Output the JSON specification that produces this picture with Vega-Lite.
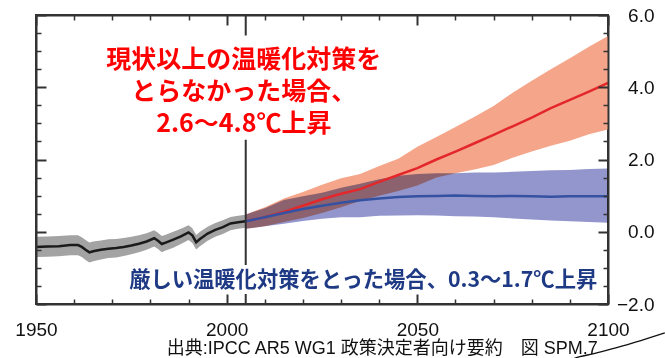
{
  "$schema": "https://vega.github.io/schema/vega-lite/v6.json",
  "width": 572,
  "height": 289,
  "autosize": {"type": "none"},
  "padding": {"left": 36, "top": 15, "right": 57, "bottom": 54},
  "background": "white",
  "config": {
    "view": {"stroke": "#333333", "strokeWidth": 2},
    "axis": {"grid": false, "title": null, "labelFont": "Liberation Sans", "labelFontSize": 19, "labelColor": "#111111", "tickColor": "#333333", "domainColor": "#333333", "domainWidth": 2}
  },
  "datasets": {
    "hist": [
      {"year": 1950, "mean": -0.42, "lo": -0.70, "hi": -0.14},
      {"year": 1953, "mean": -0.41, "lo": -0.69, "hi": -0.13},
      {"year": 1956, "mean": -0.40, "lo": -0.68, "hi": -0.12},
      {"year": 1959, "mean": -0.37, "lo": -0.65, "hi": -0.10},
      {"year": 1961, "mean": -0.37, "lo": -0.65, "hi": -0.10},
      {"year": 1962, "mean": -0.42, "lo": -0.70, "hi": -0.15},
      {"year": 1963, "mean": -0.50, "lo": -0.78, "hi": -0.23},
      {"year": 1964, "mean": -0.57, "lo": -0.85, "hi": -0.30},
      {"year": 1965, "mean": -0.54, "lo": -0.82, "hi": -0.27},
      {"year": 1967, "mean": -0.50, "lo": -0.77, "hi": -0.24},
      {"year": 1969, "mean": -0.47, "lo": -0.73, "hi": -0.21},
      {"year": 1971, "mean": -0.45, "lo": -0.71, "hi": -0.20},
      {"year": 1973, "mean": -0.42, "lo": -0.67, "hi": -0.17},
      {"year": 1975, "mean": -0.38, "lo": -0.62, "hi": -0.14},
      {"year": 1977, "mean": -0.33, "lo": -0.57, "hi": -0.10},
      {"year": 1979, "mean": -0.27, "lo": -0.50, "hi": -0.04},
      {"year": 1981, "mean": -0.18, "lo": -0.41, "hi": 0.04},
      {"year": 1982, "mean": -0.25, "lo": -0.48, "hi": -0.03},
      {"year": 1983, "mean": -0.34, "lo": -0.57, "hi": -0.12},
      {"year": 1984, "mean": -0.30, "lo": -0.52, "hi": -0.08},
      {"year": 1986, "mean": -0.22, "lo": -0.44, "hi": 0.00},
      {"year": 1988, "mean": -0.13, "lo": -0.34, "hi": 0.08},
      {"year": 1990, "mean": -0.02, "lo": -0.23, "hi": 0.18},
      {"year": 1991, "mean": -0.10, "lo": -0.31, "hi": 0.10},
      {"year": 1992, "mean": -0.29, "lo": -0.49, "hi": -0.09},
      {"year": 1993, "mean": -0.20, "lo": -0.40, "hi": 0.00},
      {"year": 1995, "mean": -0.05, "lo": -0.25, "hi": 0.14},
      {"year": 1997, "mean": 0.05, "lo": -0.14, "hi": 0.24},
      {"year": 1999, "mean": 0.13, "lo": -0.06, "hi": 0.32},
      {"year": 2001, "mean": 0.23, "lo": 0.04, "hi": 0.41},
      {"year": 2003, "mean": 0.26, "lo": 0.08, "hi": 0.44},
      {"year": 2005, "mean": 0.29, "lo": 0.11, "hi": 0.47}
    ],
    "rcp85": [
      {"year": 2005, "mean": 0.29, "lo": 0.08, "hi": 0.48},
      {"year": 2010, "mean": 0.40, "lo": 0.15, "hi": 0.68},
      {"year": 2015, "mean": 0.55, "lo": 0.27, "hi": 0.92},
      {"year": 2020, "mean": 0.72, "lo": 0.38, "hi": 1.10},
      {"year": 2025, "mean": 0.90, "lo": 0.52, "hi": 1.30},
      {"year": 2030, "mean": 1.05, "lo": 0.68, "hi": 1.48},
      {"year": 2035, "mean": 1.18, "lo": 0.85, "hi": 1.60},
      {"year": 2040, "mean": 1.38, "lo": 1.00, "hi": 1.82},
      {"year": 2045, "mean": 1.57, "lo": 1.13, "hi": 2.02},
      {"year": 2050, "mean": 1.76, "lo": 1.28, "hi": 2.35},
      {"year": 2055, "mean": 2.00, "lo": 1.50, "hi": 2.62},
      {"year": 2060, "mean": 2.22, "lo": 1.62, "hi": 2.90},
      {"year": 2065, "mean": 2.45, "lo": 1.72, "hi": 3.18},
      {"year": 2070, "mean": 2.68, "lo": 1.85, "hi": 3.48},
      {"year": 2075, "mean": 2.92, "lo": 2.05, "hi": 3.85},
      {"year": 2080, "mean": 3.16, "lo": 2.22, "hi": 4.18},
      {"year": 2085, "mean": 3.42, "lo": 2.38, "hi": 4.50},
      {"year": 2090, "mean": 3.65, "lo": 2.52, "hi": 4.80},
      {"year": 2095, "mean": 3.88, "lo": 2.70, "hi": 5.12},
      {"year": 2100, "mean": 4.12, "lo": 2.83, "hi": 5.42}
    ],
    "rcp26": [
      {"year": 2005, "mean": 0.29, "lo": 0.08, "hi": 0.48},
      {"year": 2010, "mean": 0.40, "lo": 0.15, "hi": 0.65},
      {"year": 2015, "mean": 0.52, "lo": 0.22, "hi": 0.88},
      {"year": 2020, "mean": 0.63, "lo": 0.30, "hi": 0.98},
      {"year": 2025, "mean": 0.72, "lo": 0.36, "hi": 1.08},
      {"year": 2030, "mean": 0.80, "lo": 0.40, "hi": 1.22},
      {"year": 2035, "mean": 0.87, "lo": 0.40, "hi": 1.33},
      {"year": 2040, "mean": 0.92, "lo": 0.44, "hi": 1.45},
      {"year": 2045, "mean": 0.96, "lo": 0.45, "hi": 1.55},
      {"year": 2050, "mean": 0.98, "lo": 0.46, "hi": 1.60},
      {"year": 2055, "mean": 0.99, "lo": 0.45, "hi": 1.62},
      {"year": 2060, "mean": 1.00, "lo": 0.43, "hi": 1.62},
      {"year": 2065, "mean": 0.99, "lo": 0.42, "hi": 1.64},
      {"year": 2070, "mean": 0.98, "lo": 0.40, "hi": 1.64},
      {"year": 2075, "mean": 0.99, "lo": 0.37, "hi": 1.66},
      {"year": 2080, "mean": 0.98, "lo": 0.34, "hi": 1.68},
      {"year": 2085, "mean": 0.97, "lo": 0.31, "hi": 1.70},
      {"year": 2090, "mean": 0.98, "lo": 0.29, "hi": 1.71},
      {"year": 2095, "mean": 0.98, "lo": 0.27, "hi": 1.74},
      {"year": 2100, "mean": 0.98, "lo": 0.25, "hi": 1.75}
    ],
    "arc": [
      {"year": 2090, "temp": -3.55},
      {"year": 2092.6, "temp": -3.46},
      {"year": 2096, "temp": -3.38},
      {"year": 2100, "temp": -3.27},
      {"year": 2104.9, "temp": -3.13},
      {"year": 2110.2, "temp": -2.96},
      {"year": 2114.9, "temp": -2.80}
    ]
  },
  "resolve": {"axis": {"x": "independent", "y": "independent"}},
  "layer": [
    {
      "data": {"name": "hist"},
      "mark": {"type": "area", "color": "#A3A3A3"},
      "encoding": {
        "x": {"field": "year", "type": "quantitative", "scale": {"domain": [1950, 2100], "nice": false, "zero": false},
          "axis": {"orient": "bottom", "values": [1950, 2000, 2050, 2100], "format": "d", "ticks": false, "domain": false, "labelPadding": 16, "labelFlush": false}},
        "y": {"field": "lo", "type": "quantitative", "scale": {"domain": [-2, 6], "nice": false, "zero": false},
          "axis": {"orient": "right", "values": [-2, 0, 2, 4, 6], "format": ".1f", "ticks": false, "domain": false, "labelAlign": "right", "labelBaseline": "middle", "labelPadding": 46}},
        "y2": {"field": "hi"}
      }
    },
    {
      "data": {"name": "hist"},
      "mark": {"type": "line", "color": "#1A1A1A", "strokeWidth": 2.5},
      "encoding": {
        "x": {"field": "year", "type": "quantitative",
          "axis": {"orient": "bottom", "values": [1960, 1970, 1980, 1990, 2010, 2020, 2030, 2040, 2060, 2070, 2080, 2090], "tickSize": -5, "tickWidth": 1.5, "labels": false, "domain": false, "zindex": 2}},
        "y": {"field": "mean", "type": "quantitative",
          "axis": {"orient": "left", "values": [-1.5, -1, -0.5, 0.5, 1, 1.5, 2.5, 3, 3.5, 4.5, 5, 5.5], "tickSize": -5, "tickWidth": 1.5, "labels": false, "domain": false, "zindex": 2}}
      }
    },
    {
      "data": {"name": "rcp85"},
      "mark": {"type": "area", "color": "#F5A68A"},
      "encoding": {
        "x": {"field": "year", "type": "quantitative",
          "axis": {"orient": "bottom", "values": [1950, 2000, 2050, 2100], "tickSize": -10, "tickWidth": 2, "labels": false, "domain": true, "zindex": 2}},
        "y": {"field": "lo", "type": "quantitative",
          "axis": {"orient": "left", "values": [-2, 0, 2, 4, 6], "tickSize": -10, "tickWidth": 2, "labels": false, "domain": true, "zindex": 2}},
        "y2": {"field": "hi"}
      }
    },
    {
      "data": {"name": "rcp26"},
      "mark": {"type": "area", "color": "#9296CC", "blend": "multiply"},
      "encoding": {
        "x": {"field": "year", "type": "quantitative",
          "axis": {"orient": "top", "values": [1960, 1970, 1980, 1990, 2010, 2020, 2030, 2040, 2060, 2070, 2080, 2090], "tickSize": -5, "tickWidth": 1.5, "labels": false, "domain": false, "zindex": 2}},
        "y": {"field": "lo", "type": "quantitative",
          "axis": {"orient": "right", "values": [-1.5, -1, -0.5, 0.5, 1, 1.5, 2.5, 3, 3.5, 4.5, 5, 5.5], "tickSize": -5, "tickWidth": 1.5, "labels": false, "domain": false, "zindex": 2}},
        "y2": {"field": "hi"}
      }
    },
    {
      "data": {"name": "rcp85"},
      "mark": {"type": "line", "color": "#E3272B", "strokeWidth": 2.5},
      "encoding": {
        "x": {"field": "year", "type": "quantitative",
          "axis": {"orient": "top", "values": [1950, 2000, 2050, 2100], "tickSize": -10, "tickWidth": 2, "labels": false, "domain": true, "zindex": 2}},
        "y": {"field": "mean", "type": "quantitative",
          "axis": {"orient": "right", "values": [-2, 0, 2, 4, 6], "tickSize": -10, "tickWidth": 2, "labels": false, "domain": true, "zindex": 2}}
      }
    },
    {
      "data": {"name": "rcp26"},
      "mark": {"type": "line", "color": "#3552A2", "strokeWidth": 2.5},
      "encoding": {
        "x": {"field": "year", "type": "quantitative", "axis": null},
        "y": {"field": "mean", "type": "quantitative", "axis": null}
      }
    },
    {
      "data": {"values": [{"split": 2005}]},
      "mark": {"type": "rule", "color": "#333333", "strokeWidth": 2},
      "encoding": {
        "x": {"field": "split", "type": "quantitative", "axis": null}
      }
    },
    {
      "data": {"values": [{"note": "red"}]},
      "mark": {"type": "rect", "color": "white"},
      "encoding": {
        "x": {"datum": 1968, "type": "quantitative", "axis": null},
        "x2": {"datum": 2041},
        "y": {"datum": 5.43, "type": "quantitative", "axis": null},
        "y2": {"datum": 2.55}
      }
    },
    {
      "data": {"values": [{"note": "blue"}]},
      "mark": {"type": "rect", "color": "white"},
      "encoding": {
        "x": {"datum": 1975, "type": "quantitative", "axis": null},
        "x2": {"datum": 2097},
        "y": {"datum": -0.92, "type": "quantitative", "axis": null},
        "y2": {"datum": -1.72}
      }
    },
    {
      "data": {"values": [{"label": "現状以上の温暖化対策を\nとらなかった場合、\n2.6～4.8℃上昇"}]},
      "mark": {"type": "text", "lineBreak": "\n", "lineHeight": 32, "font": "Noto Sans CJK JP", "fontWeight": "bold", "fontSize": 25, "color": "#FF0000", "align": "center", "baseline": "middle", "clip": false},
      "encoding": {
        "text": {"field": "label"},
        "x": {"datum": 2004.5, "type": "quantitative", "axis": null},
        "y": {"datum": 4.75, "type": "quantitative", "axis": null}
      }
    },
    {
      "data": {"values": [{"label": "厳しい温暖化対策をとった場合、0.3～1.7℃上昇"}]},
      "mark": {"type": "text", "font": "Noto Sans CJK JP", "fontWeight": "bold", "fontSize": 21.3, "color": "#1F3A85", "align": "center", "baseline": "middle", "clip": false},
      "encoding": {
        "text": {"field": "label"},
        "x": {"datum": 2035.8, "type": "quantitative", "axis": null},
        "y": {"datum": -1.35, "type": "quantitative", "axis": null}
      }
    },
    {
      "data": {"values": [{"label": "出典:IPCC AR5 WG1 政策決定者向け要約　図 SPM.7"}]},
      "mark": {"type": "text", "font": "Liberation Sans, Noto Sans CJK JP", "fontSize": 18, "color": "#111111", "align": "center", "baseline": "middle", "clip": false},
      "encoding": {
        "text": {"field": "label"},
        "x": {"datum": 2040.8, "type": "quantitative", "axis": null},
        "y": {"datum": -3.24, "type": "quantitative", "axis": null}
      }
    },
    {
      "data": {"name": "arc"},
      "mark": {"type": "line", "color": "#111111", "strokeWidth": 1.3, "interpolate": "monotone", "clip": false},
      "encoding": {
        "x": {"field": "year", "type": "quantitative", "axis": null},
        "y": {"field": "temp", "type": "quantitative", "axis": null}
      }
    }
  ]
}
